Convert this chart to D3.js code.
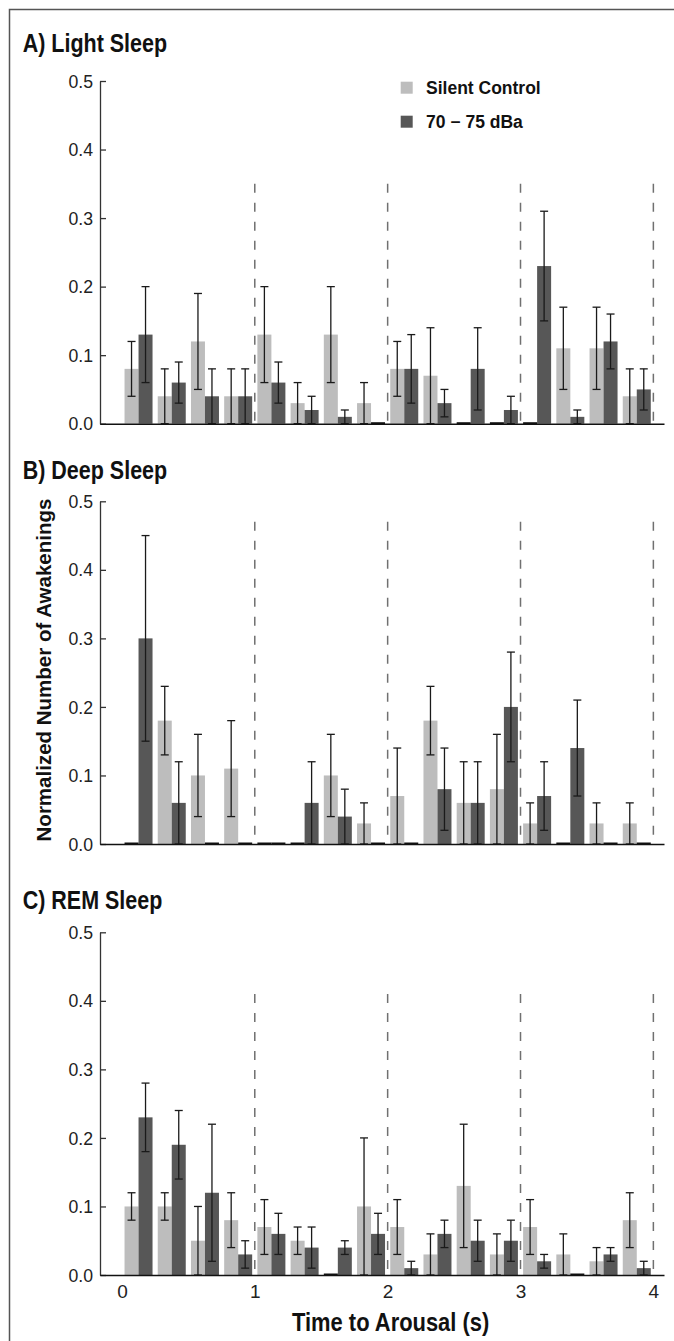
<!DOCTYPE html>
<html>
<head>
<meta charset="utf-8">
<script src="https://cdn.jsdelivr.net/npm/d3@7"></script>
<style>
  body { margin: 0; background: #fff; }
  svg { display: block; }
  text { font-family: "Liberation Sans", Arial, Helvetica, sans-serif; }
</style>
</head>
<body>
<svg id="chart" width="674" height="1341"></svg>
<script>
// ---- data -------------------------------------------------------------
const series = ["Silent Control", "70 − 75 dBa"];
const binStarts = [0, 0.25, 0.5, 0.75, 1, 1.25, 1.5, 1.75, 2, 2.25, 2.5, 2.75, 3, 3.25, 3.5, 3.75];
const binWidth = 0.25;
const xTicks = [0, 1, 2, 3, 4];
const yTicks = [0, 0.1, 0.2, 0.3, 0.4, 0.5];
const panelTitles = ["A) Light Sleep", "B) Deep Sleep", "C) REM Sleep"];

// Light sleep: mean normalized awakenings and error half-widths
const lightSilent    = [0.08, 0.04, 0.12, 0.04, 0.13, 0.03, 0.13, 0.03, 0.08, 0.07, 0, 0, 0, 0.11, 0.11, 0.04];
const lightSilentErr = [0.04, 0.04, 0.07, 0.04, 0.07, 0.03, 0.07, 0.03, 0.04, 0.07, 0, 0, 0, 0.06, 0.06, 0.04];
const lightNoise     = [0.13, 0.06, 0.04, 0.04, 0.06, 0.02, 0.01, 0, 0.08, 0.03, 0.08, 0.02, 0.23, 0.01, 0.12, 0.05];
const lightNoiseErr  = [0.07, 0.03, 0.04, 0.04, 0.03, 0.02, 0.01, 0, 0.05, 0.02, 0.06, 0.02, 0.08, 0.01, 0.04, 0.03];

// Deep sleep
const deepSilent     = [0, 0.18, 0.10, 0.11, 0, 0, 0.10, 0.03, 0.07, 0.18, 0.06, 0.08, 0.03, 0, 0.03, 0.03];
const deepSilentErr  = [0, 0.05, 0.06, 0.07, 0, 0, 0.06, 0.03, 0.07, 0.05, 0.06, 0.08, 0.03, 0, 0.03, 0.03];
const deepNoise      = [0.30, 0.06, 0, 0, 0, 0.06, 0.04, 0, 0, 0.08, 0.06, 0.20, 0.07, 0.14, 0, 0];
const deepNoiseErr   = [0.15, 0.06, 0, 0, 0, 0.06, 0.04, 0, 0, 0.06, 0.06, 0.08, 0.05, 0.07, 0, 0];

// REM sleep
const remSilent      = [0.10, 0.10, 0.05, 0.08, 0.07, 0.05, 0, 0.10, 0.07, 0.03, 0.13, 0.03, 0.07, 0.03, 0.02, 0.08];
const remSilentErr   = [0.02, 0.02, 0.05, 0.04, 0.04, 0.02, 0, 0.10, 0.04, 0.03, 0.09, 0.03, 0.04, 0.03, 0.02, 0.04];
const remNoise       = [0.23, 0.19, 0.12, 0.03, 0.06, 0.04, 0.04, 0.06, 0.01, 0.06, 0.05, 0.05, 0.02, 0, 0.03, 0.01];
const remNoiseErr    = [0.05, 0.05, 0.10, 0.02, 0.03, 0.03, 0.01, 0.03, 0.01, 0.02, 0.03, 0.03, 0.01, 0, 0.01, 0.01];

// top of the dashed one-second dividers in each panel (data units)
const dividerTops = [0.35, 0.47, 0.41];

// ---- layout -----------------------------------------------------------
const colors = { "Silent Control": "#bdbdbd", "70 − 75 dBa": "#575757" };
const panelTops = [81, 501.3, 932.3];
const panelHeight = 342.7;
const xDomain = [-0.165, 4.08];

const panels = [
  { title: panelTitles[0], titleY: 51.7, values: [lightSilent, lightNoise], errs: [lightSilentErr, lightNoiseErr], top: panelTops[0], divTop: dividerTops[0] },
  { title: panelTitles[1], titleY: 479,  values: [deepSilent, deepNoise],   errs: [deepSilentErr, deepNoiseErr],   top: panelTops[1], divTop: dividerTops[1] },
  { title: panelTitles[2], titleY: 909,  values: [remSilent, remNoise],     errs: [remSilentErr, remNoiseErr],     top: panelTops[2], divTop: dividerTops[2] }
];

const svg = d3.select("#chart");

// outer frame
svg.append("rect")
  .attr("x", 9.5).attr("y", 9.5)
  .attr("width", 720).attr("height", 1400)
  .attr("fill", "none").attr("stroke", "#555").attr("stroke-width", 1.5);

const x = d3.scaleLinear().domain(xDomain).range([100, 664]);
const inner = d3.scaleBand().domain(series).range([-14, 14]).padding(0);
const bw = inner.bandwidth();

panels.forEach((p, pi) => {
  const y = d3.scaleLinear().domain([0, 0.5]).range([panelHeight, 0]);
  const g = svg.append("g").attr("transform", `translate(0,${p.top})`);

  // panel title
  svg.append("text")
    .attr("transform", `translate(22.7,${p.titleY}) scale(0.86,1)`)
    .attr("font-size", 25).attr("font-weight", "bold").attr("fill", "#111")
    .text(p.title);

  // flattened bar records
  const rows = [];
  binStarts.forEach((b, i) => {
    series.forEach((s, si) => {
      rows.push({ bin: b, series: s, v: p.values[si][i], e: p.errs[si][i] });
    });
  });
  const barX = d => x(d.bin + binWidth / 2) + inner(d.series);

  // bars with a value
  g.selectAll("rect.bar")
    .data(rows.filter(d => d.v > 0))
    .join("rect")
    .attr("class", "bar")
    .attr("x", barX)
    .attr("y", d => y(d.v))
    .attr("width", bw)
    .attr("height", d => y(0) - y(d.v))
    .attr("fill", d => colors[d.series]);

  // empty bins show as a dark stroke on the baseline
  g.selectAll("line.zero")
    .data(rows.filter(d => d.v === 0))
    .join("line")
    .attr("class", "zero")
    .attr("x1", barX)
    .attr("x2", d => barX(d) + bw)
    .attr("y1", y(0) - 0.5).attr("y2", y(0) - 0.5)
    .attr("stroke", "#111").attr("stroke-width", 2);

  // dashed one-second dividers
  g.selectAll("line.divider")
    .data(xTicks.filter(t => t > 0))
    .join("line")
    .attr("class", "divider")
    .attr("x1", d => x(d)).attr("x2", d => x(d))
    .attr("y1", y(p.divTop)).attr("y2", y(0))
    .attr("stroke", "#707070").attr("stroke-width", 1.5)
    .attr("stroke-dasharray", "9,10");

  // error bars
  const withErr = rows.filter(d => d.v > 0);
  const eg = g.selectAll("g.err")
    .data(withErr)
    .join("g")
    .attr("class", "err")
    .attr("transform", d => `translate(${barX(d) + bw / 2},0)`)
    .attr("stroke", "#1a1a1a").attr("stroke-width", 1.3);
  eg.append("line")
    .attr("y1", d => y(Math.max(0, d.v - d.e)))
    .attr("y2", d => y(d.v + d.e));
  eg.append("line")
    .attr("x1", -4).attr("x2", 4)
    .attr("y1", d => y(d.v + d.e)).attr("y2", d => y(d.v + d.e));
  eg.append("line")
    .attr("x1", -4).attr("x2", 4)
    .attr("y1", d => y(Math.max(0, d.v - d.e))).attr("y2", d => y(Math.max(0, d.v - d.e)));

  // y axis with inward ticks
  const ya = g.append("g")
    .attr("transform", `translate(${x(xDomain[0])},0)`)
    .call(d3.axisLeft(y).tickValues(yTicks).tickFormat(d3.format(".1f"))
      .tickSize(-6).tickSizeOuter(0).tickPadding(7));
  ya.select(".domain").attr("stroke", "#333").attr("stroke-width", 1.3);
  ya.selectAll(".tick line").attr("stroke", "#333").attr("stroke-width", 1.3);
  ya.selectAll(".tick text")
    .attr("font-size", 19).attr("fill", "#222")
    .attr("font-family", "'Liberation Sans', Arial, sans-serif")
    .attr("x", -7 / 0.93).attr("transform", "scale(0.93,1)");

  // x axis baseline; labels only on the bottom panel
  const xa = g.append("g")
    .attr("transform", `translate(0,${y(0)})`)
    .call(d3.axisBottom(x).tickValues(xTicks)
      .tickFormat(pi === panels.length - 1 ? d3.format("d") : () => "")
      .tickSize(0).tickSizeOuter(0).tickPadding(10));
  xa.select(".domain").attr("stroke", "#111").attr("stroke-width", 1.6);
  xa.selectAll(".tick text")
    .attr("font-size", 19).attr("fill", "#222")
    .attr("font-family", "'Liberation Sans', Arial, sans-serif");
});

// legend
const legend = svg.append("g");
const legendRows = legend.selectAll("g")
  .data(series)
  .join("g")
  .attr("transform", (d, i) => `translate(400.7,${81.7 + i * 34})`);
legendRows.append("rect")
  .attr("width", 12).attr("height", 12)
  .attr("fill", d => colors[d]);
legendRows.append("text")
  .attr("x", 25.3).attr("y", 12.6)
  .attr("font-size", 17.5).attr("font-weight", "bold").attr("fill", "#111")
  .text(d => d);

// axis titles
svg.append("text")
  .attr("transform", "translate(51,670) rotate(-90)")
  .attr("text-anchor", "middle")
  .attr("font-size", 20.5).attr("font-weight", "bold").attr("fill", "#111")
  .text("Normalized Number of Awakenings");

svg.append("text")
  .attr("transform", `translate(${(x(0) + x(4)) / 2 + 3},1331) scale(0.86,1)`)
  .attr("text-anchor", "middle")
  .attr("font-size", 25.5).attr("font-weight", "bold").attr("fill", "#111")
  .text("Time to Arousal (s)");
</script>
</body>
</html>
